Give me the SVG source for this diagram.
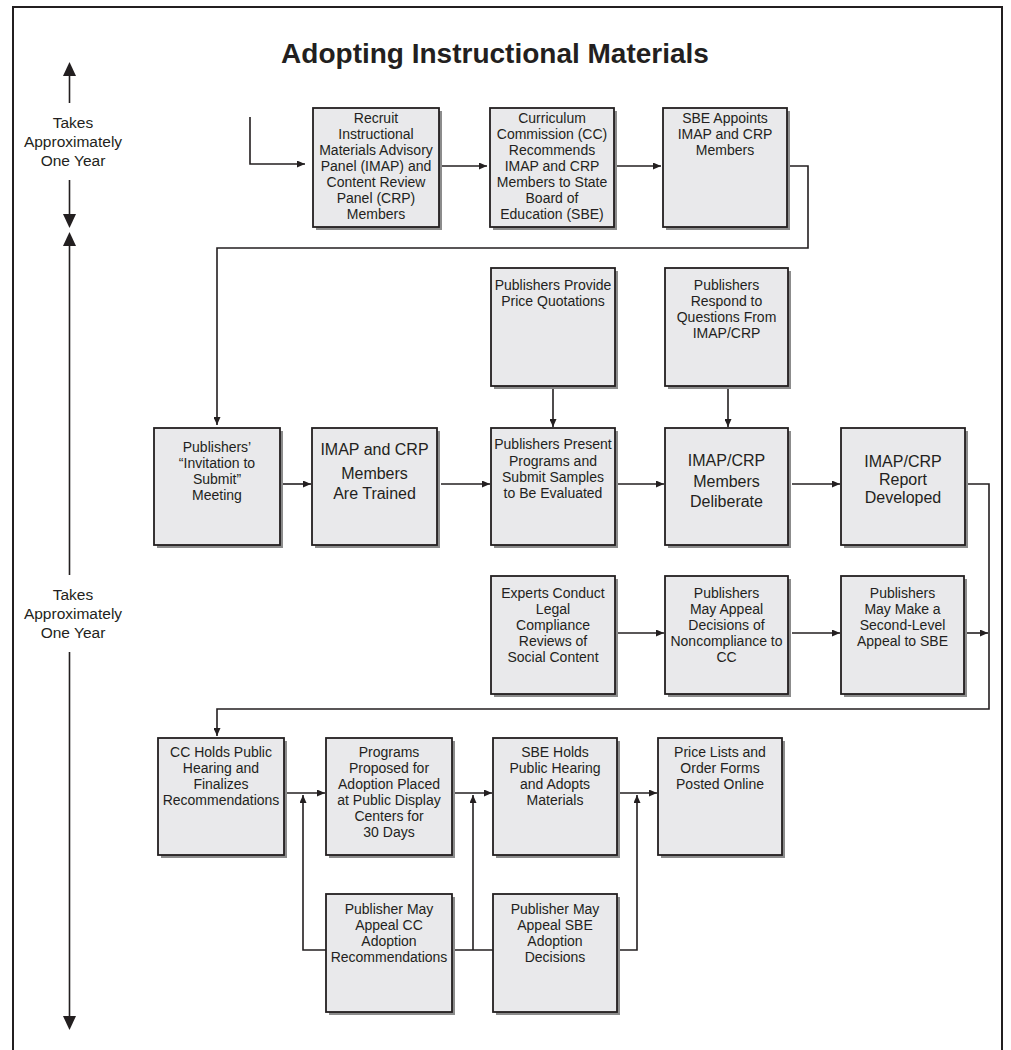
<svg xmlns="http://www.w3.org/2000/svg" width="1011" height="1050" viewBox="0 0 1011 1050">
<style>
.bg{fill:#ffffff}
.frame{fill:none;stroke:#231f20;stroke-width:2}
.sh{fill:#8c8c8c}
.bx{fill:#e9e9eb;stroke:#231f20;stroke-width:1.8}
.t{font-family:"Liberation Sans",Arial,sans-serif;font-size:14px;fill:#231f20;text-anchor:middle}
.tl{font-family:"Liberation Sans",Arial,sans-serif;font-size:16px;fill:#231f20;text-anchor:middle}
.side{font-family:"Liberation Sans",Arial,sans-serif;font-size:15.5px;fill:#231f20;text-anchor:middle}
.title{font-family:"Liberation Sans",Arial,sans-serif;font-size:28px;font-weight:bold;fill:#231f20;text-anchor:middle}
.c{fill:none;stroke:#231f20;stroke-width:1.6}
.tm{fill:none;stroke:#231f20;stroke-width:1.6}
.ah{fill:#231f20}
</style>
<defs>
<marker id="arr" markerUnits="userSpaceOnUse" markerWidth="8" markerHeight="7" refX="8" refY="3.5" orient="auto">
<path d="M0,0 L8,3.5 L0,7 z" fill="#231f20"/>
</marker>
</defs>
<rect class="bg" x="0" y="0" width="1011" height="1050"/>
<rect class="frame" x="13" y="7" width="989" height="1060"/>
<text class="title" x="495" y="63">Adopting Instructional Materials</text>

<g id="timeline">
<line class="tm" x1="69.5" y1="103" x2="69.5" y2="75"/>
<polygon class="ah" points="63,76 69.5,62 76,76"/>
<text class="side" x="73" y="128">Takes</text>
<text class="side" x="73" y="147">Approximately</text>
<text class="side" x="73" y="166">One Year</text>
<line class="tm" x1="69.5" y1="180" x2="69.5" y2="215"/>
<polygon class="ah" points="63,214 76,214 69.5,228"/>
<polygon class="ah" points="63,246 76,246 69.5,232"/>
<line class="tm" x1="69.5" y1="245" x2="69.5" y2="575"/>
<text class="side" x="73" y="600">Takes</text>
<text class="side" x="73" y="619">Approximately</text>
<text class="side" x="73" y="638">One Year</text>
<line class="tm" x1="69.5" y1="652" x2="69.5" y2="1017"/>
<polygon class="ah" points="63,1016 76,1016 69.5,1030"/>
</g>

<g id="connectors">
<path class="c" d="M250,117 V164 H305" marker-end="url(#arr)"/>
<path class="c" d="M442,166 H487" marker-end="url(#arr)"/>
<path class="c" d="M617,166 H661" marker-end="url(#arr)"/>
<path class="c" d="M790,166 H808 V248 H217 V425" marker-end="url(#arr)"/>
<path class="c" d="M553,389 V427" marker-end="url(#arr)"/>
<path class="c" d="M728,389 V427" marker-end="url(#arr)"/>
<path class="c" d="M283,484 H311" marker-end="url(#arr)"/>
<path class="c" d="M441,484 H490" marker-end="url(#arr)"/>
<path class="c" d="M618,484 H664" marker-end="url(#arr)"/>
<path class="c" d="M792,484 H840" marker-end="url(#arr)"/>
<path class="c" d="M968,484 H989 V709 H217 V736" marker-end="url(#arr)"/>
<path class="c" d="M618,633 H664" marker-end="url(#arr)"/>
<path class="c" d="M792,633 H840" marker-end="url(#arr)"/>
<path class="c" d="M967,633 H988" marker-end="url(#arr)"/>
<path class="c" d="M287,793 H325" marker-end="url(#arr)"/>
<path class="c" d="M455,793 H492" marker-end="url(#arr)"/>
<path class="c" d="M620,793 H657" marker-end="url(#arr)"/>
<path class="c" d="M326,950 H303 V795" marker-end="url(#arr)"/>
<path class="c" d="M455,950 H493"/>
<path class="c" d="M473,950 V795" marker-end="url(#arr)"/>
<path class="c" d="M620,950 H637 V795" marker-end="url(#arr)"/>
</g>

<g id="n1">
<rect class="sh" x="316" y="111" width="126" height="119"/>
<rect class="bx" x="313" y="108" width="126" height="119"/>
<text class="t"><tspan x="376" y="123">Recruit</tspan><tspan x="376" y="139">Instructional</tspan><tspan x="376" y="155">Materials Advisory</tspan><tspan x="376" y="171">Panel (IMAP) and</tspan><tspan x="376" y="187">Content Review</tspan><tspan x="376" y="203">Panel (CRP)</tspan><tspan x="376" y="219">Members</tspan></text>
</g>
<g id="n2">
<rect class="sh" x="493" y="111" width="124" height="119"/>
<rect class="bx" x="490" y="108" width="124" height="119"/>
<text class="t"><tspan x="552" y="123">Curriculum</tspan><tspan x="552" y="139">Commission (CC)</tspan><tspan x="552" y="155">Recommends</tspan><tspan x="552" y="171">IMAP and CRP</tspan><tspan x="552" y="187">Members to State</tspan><tspan x="552" y="203">Board of</tspan><tspan x="552" y="219">Education (SBE)</tspan></text>
</g>
<g id="n3">
<rect class="sh" x="666" y="111" width="124" height="119"/>
<rect class="bx" x="663" y="108" width="124" height="119"/>
<text class="t"><tspan x="725" y="123">SBE Appoints</tspan><tspan x="725" y="139">IMAP and CRP</tspan><tspan x="725" y="155">Members</tspan></text>
</g>
<g id="n4">
<rect class="sh" x="157" y="431" width="126" height="117"/>
<rect class="bx" x="154" y="428" width="126" height="117"/>
<text class="t"><tspan x="217" y="452">Publishers’</tspan><tspan x="217" y="468">“Invitation to</tspan><tspan x="217" y="484">Submit”</tspan><tspan x="217" y="500">Meeting</tspan></text>
</g>
<g id="n5">
<rect class="sh" x="315" y="431" width="125" height="117"/>
<rect class="bx" x="312" y="428" width="125" height="117"/>
<text class="tl"><tspan x="374.5" y="455">IMAP and CRP</tspan><tspan x="374.5" y="479">Members</tspan><tspan x="374.5" y="499">Are Trained</tspan></text>
</g>
<g id="n6">
<rect class="sh" x="494" y="271" width="124" height="118"/>
<rect class="bx" x="491" y="268" width="124" height="118"/>
<text class="t"><tspan x="553" y="290">Publishers Provide</tspan><tspan x="553" y="306">Price Quotations</tspan></text>
</g>
<g id="n7">
<rect class="sh" x="668" y="271" width="123" height="118"/>
<rect class="bx" x="665" y="268" width="123" height="118"/>
<text class="t"><tspan x="726.5" y="290">Publishers</tspan><tspan x="726.5" y="306">Respond to</tspan><tspan x="726.5" y="322">Questions From</tspan><tspan x="726.5" y="338">IMAP/CRP</tspan></text>
</g>
<g id="n8">
<rect class="sh" x="494" y="431" width="124" height="117"/>
<rect class="bx" x="491" y="428" width="124" height="117"/>
<text class="t"><tspan x="553" y="449">Publishers Present</tspan><tspan x="553" y="466">Programs and</tspan><tspan x="553" y="482">Submit Samples</tspan><tspan x="553" y="498">to Be Evaluated</tspan></text>
</g>
<g id="n9">
<rect class="sh" x="668" y="431" width="123" height="117"/>
<rect class="bx" x="665" y="428" width="123" height="117"/>
<text class="tl"><tspan x="726.5" y="466">IMAP/CRP</tspan><tspan x="726.5" y="487">Members</tspan><tspan x="726.5" y="507">Deliberate</tspan></text>
</g>
<g id="n10">
<rect class="sh" x="844" y="431" width="124" height="117"/>
<rect class="bx" x="841" y="428" width="124" height="117"/>
<text class="tl"><tspan x="903" y="467">IMAP/CRP</tspan><tspan x="903" y="485">Report</tspan><tspan x="903" y="503">Developed</tspan></text>
</g>
<g id="n11">
<rect class="sh" x="494" y="579" width="124" height="118"/>
<rect class="bx" x="491" y="576" width="124" height="118"/>
<text class="t"><tspan x="553" y="598">Experts Conduct</tspan><tspan x="553" y="614">Legal</tspan><tspan x="553" y="630">Compliance</tspan><tspan x="553" y="646">Reviews of</tspan><tspan x="553" y="662">Social Content</tspan></text>
</g>
<g id="n12">
<rect class="sh" x="668" y="579" width="123" height="118"/>
<rect class="bx" x="665" y="576" width="123" height="118"/>
<text class="t"><tspan x="726.5" y="598">Publishers</tspan><tspan x="726.5" y="614">May Appeal</tspan><tspan x="726.5" y="630">Decisions of</tspan><tspan x="726.5" y="646">Noncompliance to</tspan><tspan x="726.5" y="662">CC</tspan></text>
</g>
<g id="n13">
<rect class="sh" x="844" y="579" width="123" height="118"/>
<rect class="bx" x="841" y="576" width="123" height="118"/>
<text class="t"><tspan x="902.5" y="598">Publishers</tspan><tspan x="902.5" y="614">May Make a</tspan><tspan x="902.5" y="630">Second-Level</tspan><tspan x="902.5" y="646">Appeal to SBE</tspan></text>
</g>
<g id="n14">
<rect class="sh" x="161" y="741" width="126" height="117"/>
<rect class="bx" x="158" y="738" width="126" height="117"/>
<text class="t"><tspan x="221" y="757">CC Holds Public</tspan><tspan x="221" y="773">Hearing and</tspan><tspan x="221" y="789">Finalizes</tspan><tspan x="221" y="805">Recommendations</tspan></text>
</g>
<g id="n15">
<rect class="sh" x="329" y="741" width="126" height="117"/>
<rect class="bx" x="326" y="738" width="126" height="117"/>
<text class="t"><tspan x="389" y="757">Programs</tspan><tspan x="389" y="773">Proposed for</tspan><tspan x="389" y="789">Adoption Placed</tspan><tspan x="389" y="805">at Public Display</tspan><tspan x="389" y="821">Centers for</tspan><tspan x="389" y="837">30 Days</tspan></text>
</g>
<g id="n16">
<rect class="sh" x="496" y="741" width="124" height="117"/>
<rect class="bx" x="493" y="738" width="124" height="117"/>
<text class="t"><tspan x="555" y="757">SBE Holds</tspan><tspan x="555" y="773">Public Hearing</tspan><tspan x="555" y="789">and Adopts</tspan><tspan x="555" y="805">Materials</tspan></text>
</g>
<g id="n17">
<rect class="sh" x="661" y="741" width="124" height="117"/>
<rect class="bx" x="658" y="738" width="124" height="117"/>
<text class="t"><tspan x="720" y="757">Price Lists and</tspan><tspan x="720" y="773">Order Forms</tspan><tspan x="720" y="789">Posted Online</tspan></text>
</g>
<g id="n18">
<rect class="sh" x="329" y="897" width="126" height="118"/>
<rect class="bx" x="326" y="894" width="126" height="118"/>
<text class="t"><tspan x="389" y="914">Publisher May</tspan><tspan x="389" y="930">Appeal CC</tspan><tspan x="389" y="946">Adoption</tspan><tspan x="389" y="962">Recommendations</tspan></text>
</g>
<g id="n19">
<rect class="sh" x="496" y="897" width="124" height="118"/>
<rect class="bx" x="493" y="894" width="124" height="118"/>
<text class="t"><tspan x="555" y="914">Publisher May</tspan><tspan x="555" y="930">Appeal SBE</tspan><tspan x="555" y="946">Adoption</tspan><tspan x="555" y="962">Decisions</tspan></text>
</g>
</svg>
